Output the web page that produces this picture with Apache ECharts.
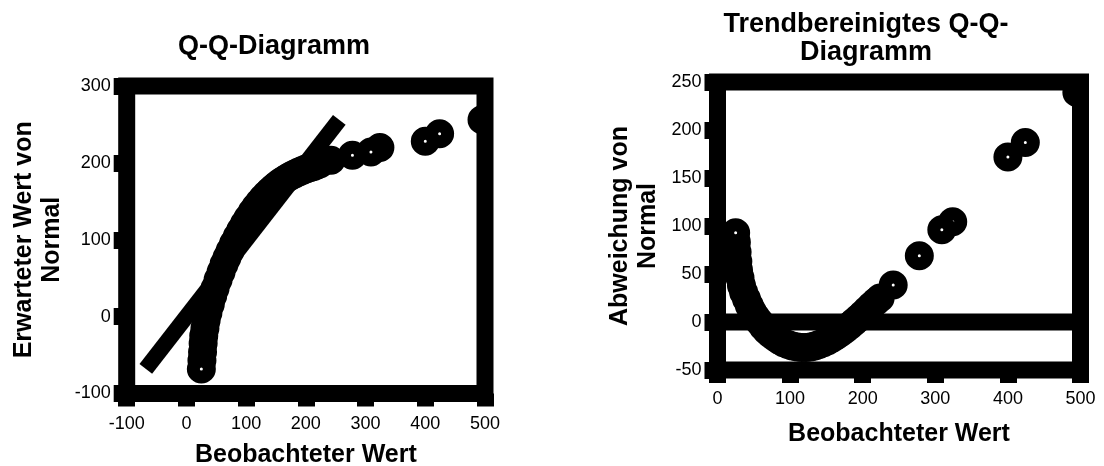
<!DOCTYPE html>
<html>
<head>
<meta charset="utf-8">
<script src="https://cdn.jsdelivr.net/npm/echarts@6/dist/echarts.min.js"></script>
<style>
  html, body { margin: 0; padding: 0; background: #fff; }
  #chart { width: 1104px; height: 466px; }
</style>
</head>
<body>
<div id="chart"></div>
<script>
// Observed values (sorted) with their expected normal quantiles and detrended deviations
const observed = [25, 26, 27, 28, 29, 31, 33, 36, 40, 44, 48, 53, 58, 63, 68, 73, 79, 85, 91, 97,
  103, 110, 116, 122, 128, 134, 140, 146, 152, 158, 164, 170, 176, 182, 188, 194, 200, 206, 212, 218,
  224, 242, 278, 309, 324, 400, 424, 495];
const expected = [-68, -57, -46, -35, -25, -15, -5, 5, 16, 27, 37, 48, 58, 68, 77, 85.5, 95, 104, 112.5, 120.5,
  128, 136, 142.5, 148.5, 154, 159, 163.5, 167.5, 171.5, 175, 178, 181, 183.5, 186, 188, 190, 192, 193.5, 195, 197,
  199, 203.5, 210, 214, 220, 228, 238, 256];
const deviation = [93, 83, 73, 63, 54, 46, 38, 31, 24, 17, 11, 5, 0, -5, -9, -12.5, -16, -19, -21.5, -23.5,
  -25, -26, -26.5, -26.5, -26, -25, -23.5, -21.5, -19.5, -17, -14, -11, -7.5, -4, 0, 4, 8, 12.5, 17, 21,
  25, 38.5, 69, 96, 104.5, 172, 187, 239];

// Axis ranges: [min, max, step]
const qqX = [-100, 500, 100];
const qqY = [-100, 300, 100];
const detX = [0, 500, 100];
const detY = [-50, 250, 50];

const titles = ['Q-Q-Diagramm', 'Trendbereinigtes Q-Q-\nDiagramm'];
const xName = 'Beobachteter Wert';
const qqYName = 'Erwarteter Wert von\nNormal';
const detYName = 'Abweichung von\nNormal';

const FONT = "'Liberation Sans', Arial, Helvetica, sans-serif";
const INK = '#000';

// Thick ring marker: white core, heavy black outline
function ringItem(params, api) {
  const p = api.coord([api.value(0), api.value(1)]);
  return {
    type: 'circle',
    shape: { cx: p[0], cy: p[1], r: 8 },
    style: { fill: '#fff', stroke: INK, lineWidth: 13 }
  };
}

function valueAxis(gridIndex, range, opts) {
  return Object.assign({
    type: 'value',
    gridIndex: gridIndex,
    min: range[0], max: range[1], interval: range[2],
    axisLine: { show: false, onZero: false },
    axisTick: { show: true, length: 13, lineStyle: { color: INK, width: 17 } },
    axisLabel: { color: INK, fontSize: 18, fontFamily: FONT },
    splitLine: { show: false },
    nameLocation: 'middle',
    nameMoveOverlap: false,
    nameTextStyle: { color: INK, fontSize: 25, fontWeight: 'bold', fontFamily: FONT, lineHeight: 28 }
  }, opts);
}

// pairs are drawn from the largest value down so the smallest sits on top
const qqPoints = observed.map((v, i) => [v, expected[i]]).reverse();
const detPoints = observed.map((v, i) => [v, deviation[i]]).reverse();
const expLo = Math.min(...expected);
const expHi = Math.max(...expected);

const frame = { show: true, borderWidth: 17, borderColor: INK, backgroundColor: 'transparent', z: 10, outerBoundsMode: 'none' };

const option = {
  animation: false,
  backgroundColor: '#fff',
  title: [
    { text: titles[0], left: 274, top: 33, textAlign: 'center', textVerticalAlign: 'top', padding: 0,
      textStyle: { color: INK, fontSize: 27, fontWeight: 'bold', fontFamily: FONT, lineHeight: 28 } },
    { text: titles[1], left: 866, top: 11, textAlign: 'center', textVerticalAlign: 'top', padding: 0,
      textStyle: { color: INK, fontSize: 27, fontWeight: 'bold', fontFamily: FONT, lineHeight: 28 } }
  ],
  grid: [
    Object.assign({ left: 126.7, top: 86, width: 358.3, height: 307.5 }, frame),
    Object.assign({ left: 717.5, top: 82, width: 363, height: 288 }, frame)
  ],
  xAxis: [
    valueAxis(0, qqX, { position: 'bottom', name: xName, nameGap: 48,
      axisLabel: { color: INK, fontSize: 18, fontFamily: FONT, margin: 22 } }),
    valueAxis(1, detX, { position: 'bottom', name: xName, nameGap: 50,
      axisLabel: { color: INK, fontSize: 18, fontFamily: FONT, margin: 20 } })
  ],
  yAxis: [
    valueAxis(0, qqY, { position: 'left', name: qqYName, nameGap: 61,
      axisLabel: { color: INK, fontSize: 18, fontFamily: FONT, margin: 16 } }),
    valueAxis(1, detY, { position: 'left', name: detYName, nameGap: 55,
      axisLabel: { color: INK, fontSize: 18, fontFamily: FONT, margin: 16 } })
  ],
  series: [
    {
      type: 'line', xAxisIndex: 0, yAxisIndex: 0, silent: true, z: 1,
      data: [[expLo, expLo], [expHi, expHi]],
      showSymbol: false, symbol: 'none',
      lineStyle: { color: INK, width: 16, cap: 'butt' }
    },
    {
      type: 'custom', xAxisIndex: 0, yAxisIndex: 0, clip: true, silent: true, z: 1,
      encode: { x: 0, y: 1 },
      data: qqPoints, renderItem: ringItem
    },
    {
      type: 'line', xAxisIndex: 1, yAxisIndex: 1, silent: true, z: 1,
      data: [[detX[0], 0], [detX[1], 0]],
      showSymbol: false, symbol: 'none',
      lineStyle: { color: INK, width: 17, cap: 'butt' }
    },
    {
      type: 'custom', xAxisIndex: 1, yAxisIndex: 1, clip: true, silent: true, z: 1,
      encode: { x: 0, y: 1 },
      data: detPoints, renderItem: ringItem
    }
  ]
};

const chart = echarts.init(document.getElementById('chart'), null, { renderer: 'canvas' });
chart.setOption(option);
</script>
</body>
</html>
